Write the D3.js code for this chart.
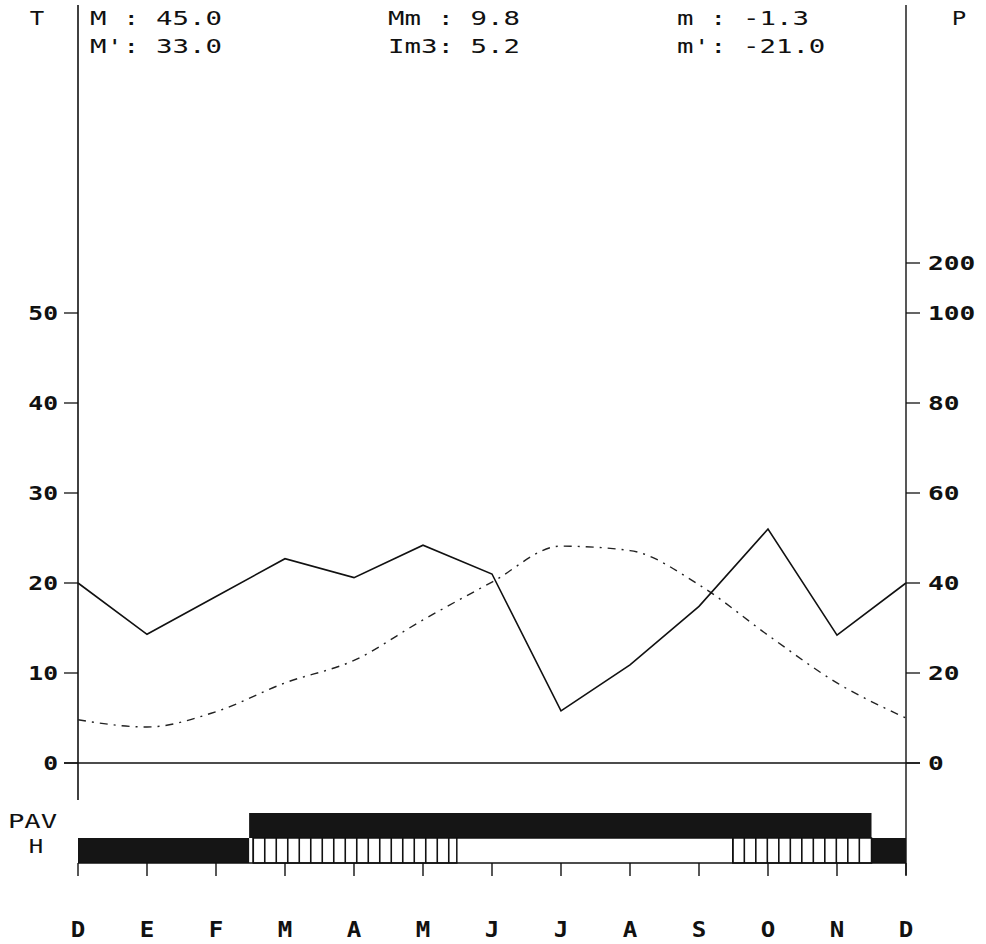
<!DOCTYPE html>
<html>
<head>
<meta charset="utf-8">
<script src="https://cdn.jsdelivr.net/npm/d3@7/dist/d3.min.js"></script>
<style>
html,body{margin:0;padding:0;background:#fff;}
svg{display:block;}
</style>
</head>
<body>
<script>
// ---- data ----
const months = ["D","E","F","M","A","M","J","J","A","S","O","N","D"];
const temperature = [4.8, 4.0, 5.7, 8.9, 11.4, 15.9, 20.1, 24.1, 23.6, 19.8, 14.2, 8.9, 5.0];
const precipitation = [40, 28.6, 37, 45.4, 41.2, 48.4, 42, 11.6, 21.8, 34.8, 52, 28.4, 40];
const tTicks = [0, 10, 20, 30, 40, 50];
const pTicks = [0, 20, 40, 60, 80, 100, 200];
const statsLeft = ["M : 45.0", "M': 33.0"];
const statsMid = ["Mm : 9.8", "Im3: 5.2"];
const statsRight = ["m : -1.3", "m': -21.0"];
// periods in month units (0 = first December tick)
const pavPeriods = [[2.48, 11.5]];
const frostSure = [[0, 2.48], [11.5, 12]];
const frostProbable = [[2.54, 5.49], [9.49, 11.5]];

// ---- layout ----
const W = 986, H = 944;
const svg = d3.select("body").append("svg").attr("width", W).attr("height", H);
const x = d3.scaleLinear().domain([0, 12]).range([78, 906]);
const yT = d3.scaleLinear().domain([0, 50]).range([763, 313]);
const yP = d3.scaleLinear().domain([0, 100, 200]).range([763, 313, 263]);

const mono = "'DejaVu Sans Mono', 'Liberation Mono', monospace";
function txt(str, px, py, opts) {
  opts = opts || {};
  const g = svg.append("g").attr("transform", `translate(${px},${py}) scale(${opts.sx || 1.37},1)`);
  g.append("text").text(str)
    .attr("font-family", mono)
    .attr("font-size", opts.size || 20)
    .attr("font-weight", opts.bold ? "bold" : "normal")
    .attr("text-anchor", opts.anchor || "start")
    .attr("fill", "#111")
    .style("white-space", "pre")
    .attr("xml:space", "preserve");
}

// ---- axes lines ----
svg.append("line").attr("x1", 78).attr("x2", 78).attr("y1", 5).attr("y2", 800).attr("stroke", "#111").attr("stroke-width", 1.6);
svg.append("line").attr("x1", 906).attr("x2", 906).attr("y1", 5).attr("y2", 875).attr("stroke", "#111").attr("stroke-width", 1.4);
// zero line
svg.append("line").attr("x1", 64).attr("x2", 920).attr("y1", yT(0)).attr("y2", yT(0)).attr("stroke", "#111").attr("stroke-width", 1.3);

// left ticks
tTicks.forEach(t => {
  svg.append("line").attr("x1", 64).attr("x2", 78).attr("y1", yT(t)).attr("y2", yT(t)).attr("stroke", "#111").attr("stroke-width", 1.3);
  txt(String(t), 58, yT(t) + 7, {anchor: "end", bold: true, size: 19, sx: 1.3});
});
// right ticks
pTicks.forEach(p => {
  svg.append("line").attr("x1", 906).attr("x2", 920).attr("y1", yP(p)).attr("y2", yP(p)).attr("stroke", "#111").attr("stroke-width", 1.3);
  txt(String(p), 928, yP(p) + 7, {anchor: "start", bold: true, size: 19, sx: 1.38});
});

// ---- lines ----
const lineT = d3.line().x((d, i) => x(i)).y(d => yT(d)).curve(d3.curveMonotoneX);
svg.append("path").datum(temperature).attr("d", lineT)
  .attr("fill", "none").attr("stroke", "#222").attr("stroke-width", 1.4)
  .attr("stroke-dasharray", "8 6 2 6");
const lineP = d3.line().x((d, i) => x(i)).y(d => yP(d));
svg.append("path").datum(precipitation).attr("d", lineP)
  .attr("fill", "none").attr("stroke", "#111").attr("stroke-width", 1.6);

// ---- bottom bars ----
const barTop = 813, barMid = 838, barBot = 863;
pavPeriods.forEach(p => {
  svg.append("rect").attr("x", x(p[0])).attr("y", barTop).attr("width", x(p[1]) - x(p[0])).attr("height", barMid - barTop).attr("fill", "#151515");
});
frostSure.forEach(p => {
  svg.append("rect").attr("x", x(p[0])).attr("y", barMid).attr("width", x(p[1]) - x(p[0])).attr("height", barBot - barMid).attr("fill", "#151515");
});
frostProbable.forEach(p => {
  svg.append("rect").attr("x", x(p[0])).attr("y", barMid).attr("width", x(p[1]) - x(p[0])).attr("height", barBot - barMid)
    .attr("fill", "#fff").attr("stroke", "#111").attr("stroke-width", 1.5);
  d3.range(p[0], p[1] - 0.05, 1 / 6).forEach(m => {
    svg.append("line").attr("x1", x(m)).attr("x2", x(m)).attr("y1", barMid).attr("y2", barBot).attr("stroke", "#111").attr("stroke-width", 1.6);
  });
});
// baseline of bar zone
svg.append("line").attr("x1", 78).attr("x2", 906).attr("y1", barBot).attr("y2", barBot).attr("stroke", "#111").attr("stroke-width", 1.4);
svg.append("line").attr("x1", x(5.49)).attr("x2", x(9.49)).attr("y1", barMid).attr("y2", barMid).attr("stroke", "#111").attr("stroke-width", 1.4);

// month ticks and labels
months.forEach((m, i) => {
  svg.append("line").attr("x1", x(i)).attr("x2", x(i)).attr("y1", barBot).attr("y2", 876).attr("stroke", "#111").attr("stroke-width", 1.4);
  txt(m, x(i), 937, {anchor: "middle", bold: true, size: 21, sx: 1.15});
});

// ---- labels ----
txt("T", 37, 25, {anchor: "middle", size: 20, sx: 1.2});
txt("P", 959, 25, {anchor: "middle", size: 20, sx: 1.2});
txt("PAV", 8, 828, {anchor: "start", size: 20, sx: 1.36});
txt("H", 36, 853, {anchor: "middle", size: 20, sx: 1.2});
statsLeft.forEach((s, i) => txt(s, 90, 25 + i * 28, {}));
statsMid.forEach((s, i) => txt(s, 388, 25 + i * 28, {}));
statsRight.forEach((s, i) => txt(s, 677, 25 + i * 28, {}));
</script>
</body>
</html>
